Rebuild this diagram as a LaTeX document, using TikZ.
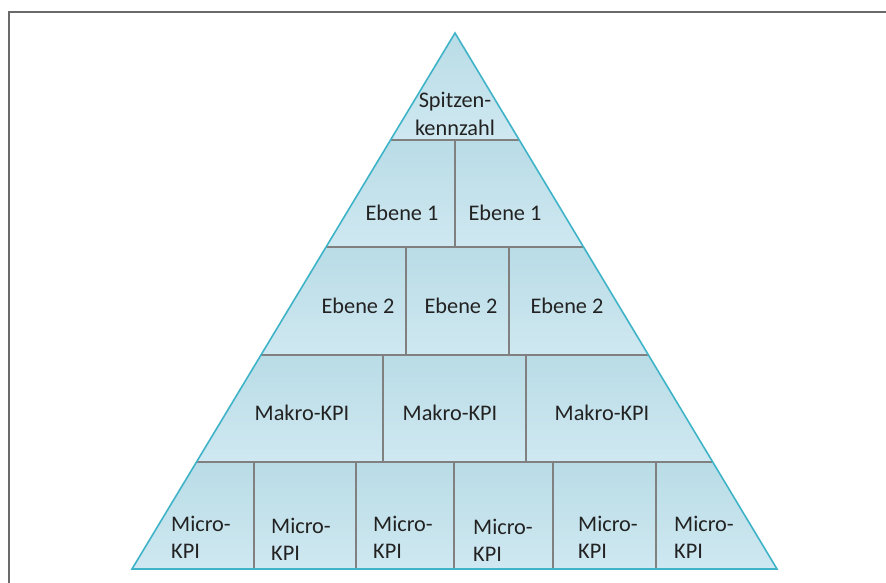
\documentclass[tikz,border=0pt]{standalone}
\usepackage{fontspec}
\setmainfont{Carlito}
\usetikzlibrary{calc}
\definecolor{edgeteal}{HTML}{3FB3C8}
\definecolor{rowtop}{HTML}{B9DCE6}
\definecolor{rowbot}{HTML}{CFE8F1}
\definecolor{sepgrey}{HTML}{808080}
\definecolor{framegrey}{HTML}{6A6A6A}
\definecolor{txt}{HTML}{222222}
\tikzset{
  lbl/.style={inner sep=0pt, text=txt, font=\fontsize{22.3}{28}\selectfont},
  micro/.style={lbl, align=left, anchor=west, font=\fontsize{22.3}{27}\selectfont},
  sep/.style={draw=sepgrey, line width=2.2pt},
  frame/.style={draw=framegrey, line width=1.8pt},
}
\begin{document}
\begin{tikzpicture}[x=1pt,y=-1pt]
\useasboundingbox (0,0) rectangle (886,583);
\coordinate (A) at (455,33);
\coordinate (L) at (132,569);
\coordinate (R) at (777,569);
% frame
\coordinate (f1) at (9,583);
\coordinate (f2) at (9,12);
\coordinate (f3) at (886,12);
\draw[frame] (f1) -- (f2) -- (f3);
% fill rows
\begin{scope}
\clip (A) -- (L) -- (R) -- cycle;
\foreach \t/\b in {33/140.2,140.2/247.4,247.4/354.6,354.6/461.8,461.8/569}
  \shade[top color=rowtop, bottom color=rowbot] (100,\t) rectangle (800,\b);
\end{scope}
% horizontal separators
\foreach \f/\n in {0.2/1,0.4/2,0.6/3,0.8/4}{
  \coordinate (l\n) at ($(A)!\f!(L)$);
  \coordinate (r\n) at ($(A)!\f!(R)$);
  \draw[sep] (l\n) -- (r\n);
}
% vertical separators
\foreach \x in {455} \draw[sep] (\x,140.2) -- (\x,247.4);
\foreach \x in {406,509} \draw[sep] (\x,247.4) -- (\x,354.6);
\foreach \x in {383,526} \draw[sep] (\x,354.6) -- (\x,461.8);
\foreach \x in {254,356,454,553,656} \draw[sep] (\x,461.8) -- (\x,569);
% outline
\draw[edgeteal, line width=1.6pt, line join=miter] (A) -- (L) -- (R) -- cycle;
% labels
\node[lbl, align=center] (top) at (455,114) {Spitzen-\\kennzahl};
\node[lbl] (e11) at (402,213) {Ebene 1};
\node[lbl] (e12) at (505,213) {Ebene 1};
\node[lbl] (e21) at (358,306) {Ebene 2};
\node[lbl] (e22) at (461,306) {Ebene 2};
\node[lbl] (e23) at (567,306) {Ebene 2};
\node[lbl] (m1) at (302,413) {Makro-KPI};
\node[lbl] (m2) at (450,413) {Makro-KPI};
\node[lbl] (m3) at (602,413) {Makro-KPI};
\node[micro] (k1) at (171,537) {Micro-\\KPI};
\node[micro] (k2) at (271,539) {Micro-\\KPI};
\node[micro] (k3) at (373,537) {Micro-\\KPI};
\node[micro] (k4) at (473,540) {Micro-\\KPI};
\node[micro] (k5) at (578,537) {Micro-\\KPI};
\node[micro] (k6) at (674,537) {Micro-\\KPI};
\end{tikzpicture}
\end{document}
